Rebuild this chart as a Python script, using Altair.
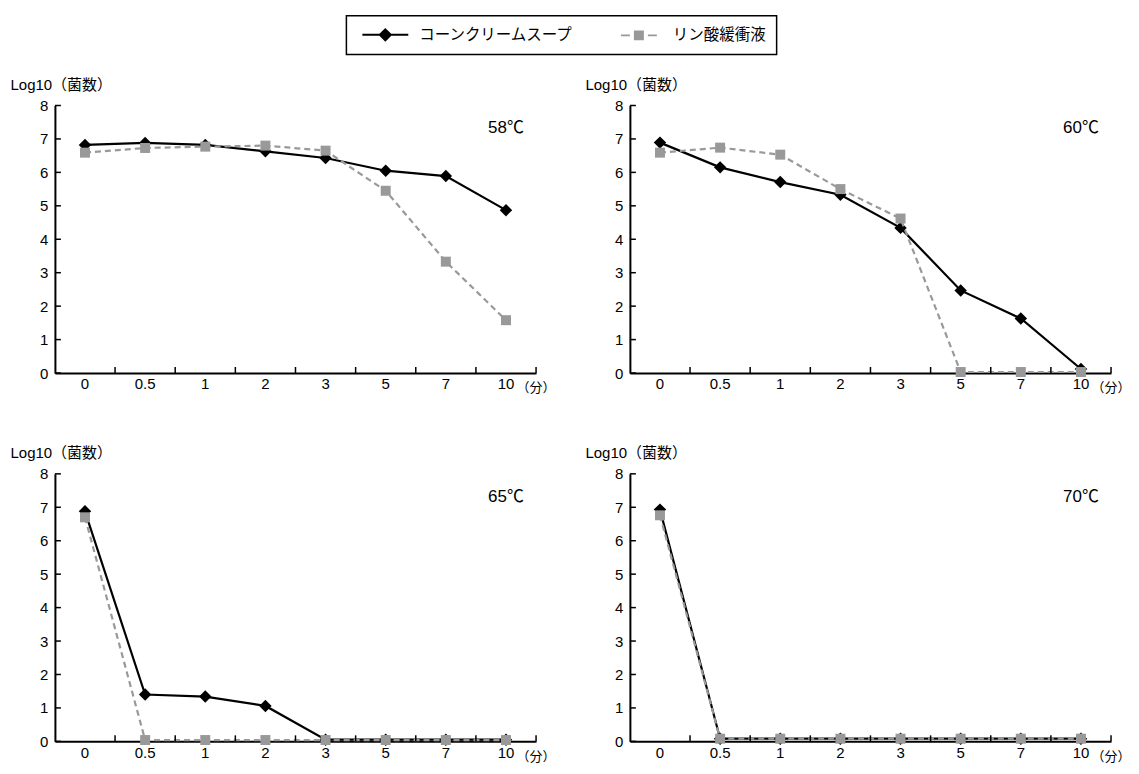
import altair as alt
import pandas as pd

# ---- data ----
times = ["0", "0.5", "1", "2", "3", "5", "7", "10"]
series = ["コーンクリームスープ", "リン酸緩衝液"]
temps = ["58℃", "60℃", "65℃", "70℃"]

soup_58 = [6.82, 6.88, 6.82, 6.63, 6.43, 6.05, 5.89, 4.87]
buffer_58 = [6.59, 6.73, 6.77, 6.80, 6.65, 5.45, 3.33, 1.58]
soup_60 = [6.89, 6.15, 5.71, 5.33, 4.34, 2.47, 1.63, 0.12]
buffer_60 = [6.59, 6.74, 6.53, 5.50, 4.62, 0.03, 0.03, 0.03]
soup_65 = [6.88, 1.40, 1.34, 1.06, 0.05, 0.05, 0.05, 0.05]
buffer_65 = [6.70, 0.04, 0.04, 0.04, 0.04, 0.04, 0.04, 0.04]
soup_70 = [6.93, 0.08, 0.08, 0.08, 0.08, 0.08, 0.08, 0.08]
buffer_70 = [6.76, 0.08, 0.08, 0.08, 0.08, 0.08, 0.08, 0.08]

y_ticks = [0, 1, 2, 3, 4, 5, 6, 7, 8]
label_time = "10"
label_value = 7.32
x_tick_height = 0.18

W, H = 482, 268
FONT = "Liberation Sans, Noto Sans CJK JP"
GREY = "#999999"

# legend symbols: line + marker drawn as one custom path
PATH_SOUP = "M-0.375,0L5.375,0M2.5,-0.69L3.19,0L2.5,0.69L1.81,0Z"
PATH_BUF = ("M0.25,0L1.375,0M3.625,0L4.75,0"
            "M2,-0.5L3,-0.5L3,0.5L2,0.5Z")

XSCALE = alt.Scale(type="band", paddingInner=0, paddingOuter=0)
YSCALE = alt.Scale(domain=[0, 8], nice=False, zero=True)
XAXIS = alt.Axis(
    title="（分）", titleX=W - 20, titleY=15, titleAlign="left",
    titleBaseline="middle", titleFont=FONT, titleFontSize=13,
    titleFontWeight="normal", titleColor="black",
    labelAngle=0, ticks=False, labelPadding=4, labelFont=FONT,
    labelFontSize=15, labelColor="black", domainColor="black",
    domainWidth=2, grid=False,
)
YAXIS = alt.Axis(
    values=y_ticks, title="Log10（菌数）", titleAngle=0, titleX=-45,
    titleY=-21, titleAlign="left", titleBaseline="middle",
    titleFont=FONT, titleFontSize=15, titleFontWeight="normal",
    titleColor="black", ticks=False, labelPadding=7, labelFont=FONT,
    labelFontSize=15, labelColor="black", domainColor="black",
    domainWidth=2, grid=False,
)
LEG = dict(title=None)


def xenc(band=0.5):
    return alt.X("time:N", sort=times, bandPosition=band, scale=XSCALE, axis=XAXIS)


def yenc():
    return alt.Y("value:Q", scale=YSCALE, axis=YAXIS)


def panel(temp, soup, buf, with_legend=False):
    df = pd.DataFrame({
        "time": times * 2,
        "value": soup + buf,
        "series": [series[0]] * len(times) + [series[1]] * len(times),
    })
    base = alt.Chart(df)
    soup_line = base.transform_filter(alt.datum.series == series[0]).mark_line(
        color="black", strokeWidth=2.2).encode(x=xenc(), y=yenc())
    soup_pts = base.transform_filter(alt.datum.series == series[0]).mark_point(
        shape="diamond", filled=True, color="black", size=155, opacity=1).encode(x=xenc(), y=yenc())
    buf_line = base.transform_filter(alt.datum.series == series[1]).mark_line(
        color=GREY, strokeWidth=2.2, strokeDash=[6, 4]).encode(x=xenc(), y=yenc())
    buf_pts = base.transform_filter(alt.datum.series == series[1]).mark_point(
        shape="square", filled=True, color=GREY, size=100, opacity=1).encode(x=xenc(), y=yenc())

    tick_df = pd.DataFrame({"time": times, "value": [0] * len(times),
                            "value2": [x_tick_height] * len(times)})
    x_ticks = alt.Chart(tick_df).mark_rule(color="black", strokeWidth=1.5).encode(
        x=xenc(1), y=yenc(), y2="value2:Q",
    )
    ytick_df = pd.DataFrame({"value": y_ticks})
    y_tick_marks = alt.Chart(ytick_df).mark_rule(color="black", strokeWidth=1.5).encode(
        y=yenc(), x=alt.value(0), x2=alt.value(6),
    )
    lab_df = pd.DataFrame({"time": [label_time], "value": [label_value], "label": [temp]})
    temp_text = alt.Chart(lab_df).mark_text(
        font=FONT, fontSize=17, color="black", align="center", baseline="middle").encode(
        x=xenc(), y=yenc(), text="label:N",
    )
    layers = [soup_line, soup_pts, buf_line, buf_pts, x_ticks, y_tick_marks, temp_text]
    if with_legend:
        leg = base.transform_filter("false").mark_point(
            filled=True, opacity=1, strokeWidth=2).encode(
            x=xenc(), y=yenc(),
            shape=alt.Shape("series:N", scale=alt.Scale(domain=series, range=[PATH_SOUP, PATH_BUF]),
                            legend=alt.Legend(**LEG)),
            color=alt.Color("series:N", scale=alt.Scale(domain=series, range=["black", GREY]),
                            legend=alt.Legend(**LEG)),
            stroke=alt.Stroke("series:N", scale=alt.Scale(domain=series, range=["black", GREY]),
                              legend=alt.Legend(**LEG)),
        )
        layers.append(leg)
    return alt.layer(*layers).properties(width=W, height=H)


p1 = panel(temps[0], soup_58, buffer_58, with_legend=True)
p2 = panel(temps[1], soup_60, buffer_60)
p3 = panel(temps[2], soup_65, buffer_65)
p4 = panel(temps[3], soup_70, buffer_70)

top = alt.hconcat(p1, p2, spacing=29)
bottom = alt.hconcat(p3, p4, spacing=29)
chart = alt.vconcat(top, bottom, spacing=51).properties(
    padding={"left": 2, "top": 6, "right": 0, "bottom": 0}
).configure_view(stroke=None).configure_legend(
    orient="none", legendX=292, legendY=-90, direction="horizontal",
    strokeColor="black", strokeWidth=1.5, padding=10, labelFont=FONT,
    labelFontSize=15.5, labelColor="black", symbolSize=256, symbolStrokeWidth=2,
    labelOffset=45, columnPadding=35,
)

chart.save("out.html", embed_options={"renderer": "svg", "actions": False})
